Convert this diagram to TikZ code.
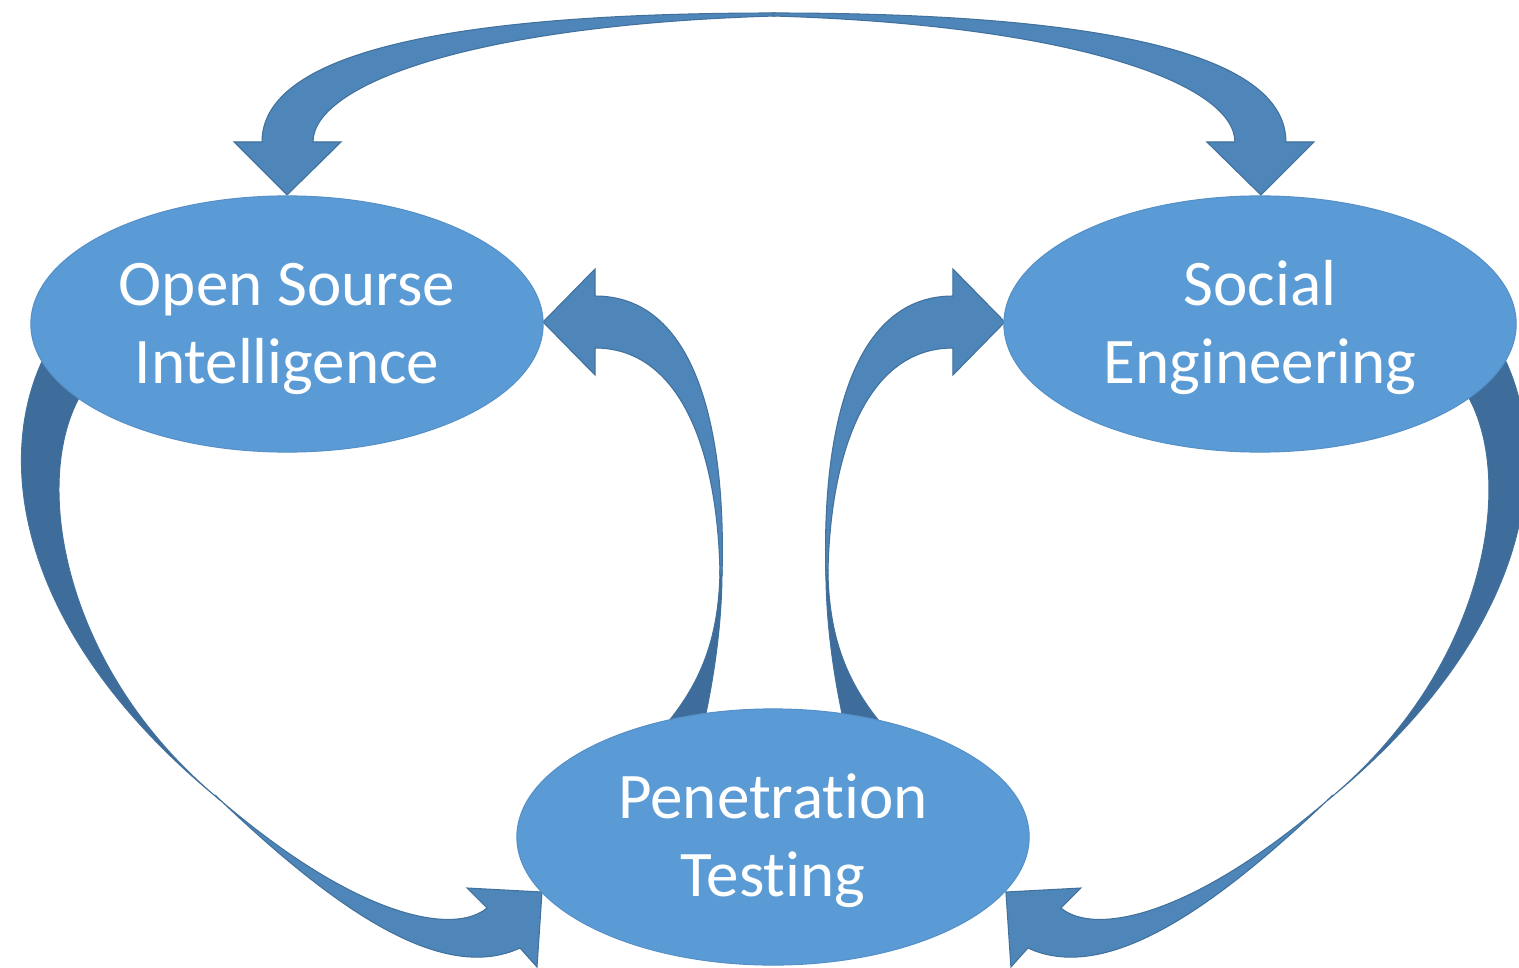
\documentclass[tikz,border=0pt]{standalone}
\usepackage{fontspec}
\setmainfont{Carlito}[Ligatures={NoCommon}]
\usetikzlibrary{shapes.geometric}

\definecolor{nodeblue}{HTML}{5B9BD5}
\definecolor{nodeline}{HTML}{5590C8}
\definecolor{arrowfront}{HTML}{4E86B9}
\definecolor{arrowback}{HTML}{3E6C9B}
\definecolor{arrowline}{HTML}{41719C}

\tikzset{
  topic/.style={ellipse, fill=nodeblue, draw=nodeline, line width=0.3pt,
    minimum width=5.12cm, minimum height=2.56cm, inner sep=0pt,
    text=white, align=center, font=\fontsize{18.5}{22.2}\selectfont},
  front/.style={fill=arrowfront, draw=arrowline, line width=0.3pt},
  back/.style={fill=arrowback, draw=arrowline, line width=0.3pt}
}

\newcommand\twoline[2]{\rule{0pt}{15.9pt}#1\\#2\rule[-4.5pt]{0pt}{4.5pt}}

\newcommand\sidearrows{%
  \path[front] (775,13) .. controls (420,13) and (262,60) .. (262,142) -- (234,142) -- (287,195) -- (341,142) -- (313,142)
    .. controls (313,85) and (470,25) .. (775,16) -- cycle;
  \path[back] (60,330) .. controls (-10,430) and (0,620) .. (220,800)
    .. controls (50,660) and (26,450) .. (95,375) -- cycle;
  \path[front] (215,795) .. controls (330,905) and (440,985) .. (520,948) -- (537,967) -- (542,892) -- (467,888) -- (487,908)
    .. controls (455,935) and (360,920) .. (220,800) -- cycle;
  \path[back] (720,570) .. controls (719,640) and (700,690) .. (652,740) -- (700,740)
    .. controls (712,690) and (722,630) .. (722,570) -- cycle;
  \path[front] (722,575) .. controls (726,440) and (700,296) .. (595,296) -- (595,269) -- (543,322) -- (595,375) -- (595,348)
    .. controls (680,348) and (718,450) .. (720,575) -- cycle;
}

\begin{document}
\begin{tikzpicture}[x=0.01cm, y=-0.01cm]
  \useasboundingbox (0,0) rectangle (1519,967);
  \begin{scope}
    \sidearrows
  \end{scope}
  \begin{scope}[xshift=15.47cm, xscale=-1]
    \sidearrows
  \end{scope}
  \node[topic] (osi) at (287,324) {\twoline{Open Sourse}{Intelligence}};
  \node[topic] (se) at (1260,324) {\twoline{Social}{Engineering}};
  \node[topic] (pt) at (773,837) {\twoline{Penetration}{Testing}};
\end{tikzpicture}
\end{document}
